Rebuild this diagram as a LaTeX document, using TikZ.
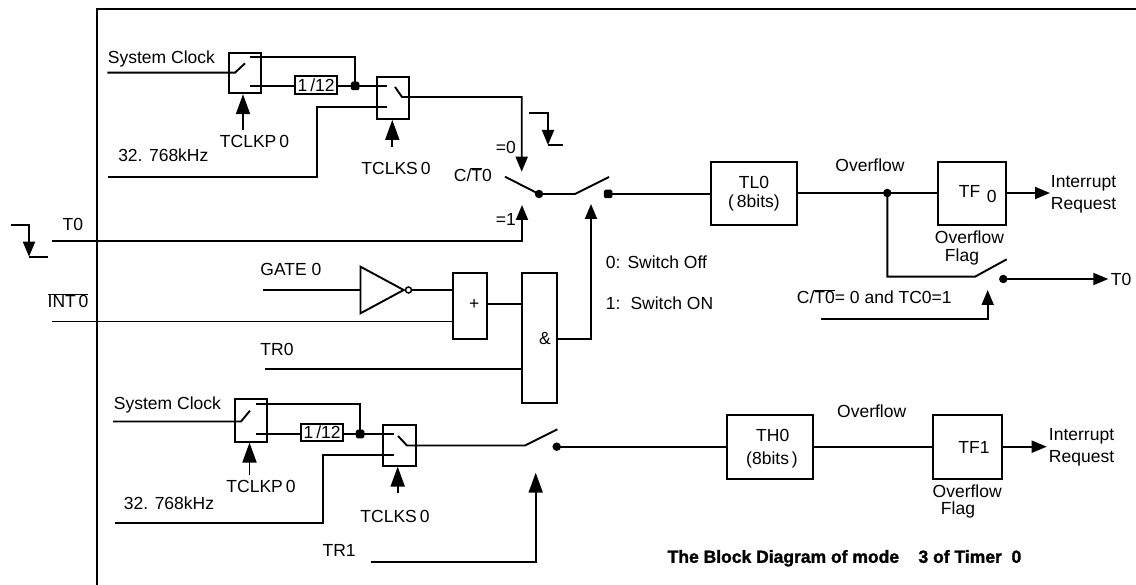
\documentclass[tikz,border=0pt]{standalone}
\usepackage{fontspec}
\setmainfont{Liberation Sans}
\newfontfamily\capfont[FakeBold=1.6]{Liberation Sans Bold}
\usetikzlibrary{arrows.meta}
\newcommand\olin[1]{$\overline{\mbox{#1}}$}
\begin{document}
\begin{tikzpicture}[x=1pt,y=-1pt, line width=1.9pt,
  every node/.style={inner sep=0pt, font=\fontsize{17.5}{20}\selectfont},
  blk/.style={draw, rectangle, line width=1.9pt, inner sep=0pt},
  arr/.style={-{Triangle[length=15pt,width=12pt]}},
  barr/.style={-{Triangle[length=20pt,width=14pt]}},
  lbl/.style={anchor=west},
  dotc/.style={circle, fill, minimum size=8.5pt, inner sep=0pt},
  dots/.style={rectangle, rounded corners=1.5pt, fill, minimum size=8.5pt, inner sep=0pt},
]
\useasboundingbox (0,0) rectangle (1136,585);
% frame
\coordinate (fbl) at (96.7,585); \coordinate (ftl) at (96.7,9.3); \coordinate (ftr) at (1136,9.3);
\draw (fbl) -- (ftl) -- (ftr);

% ===== top clock selection =====
\node[lbl] (sclk1) at (107,59.3) {System Clock};
\node[blk, minimum width=32.6pt, minimum height=40.6pt] (sw1) at (245,73) {};
\node[blk, minimum width=42pt, minimum height=18pt] (div1) at (316.2,85) {};
\node (div1t) at (div1) {1\,/12};
\node[blk, minimum width=32.6pt, minimum height=42.3pt] (sw2) at (393,97.8) {};
\coordinate (sc1) at (107.3,72.7);
\coordinate (p1a) at (235,72.7); \coordinate (p1b) at (245,63.3);
\draw (sc1) -- (p1a) -- (p1b);
\coordinate (s1t) at (250,56.7); \coordinate (j1) at (355,56.7);
\node[dots] (d1) at (355,86) {};
\draw (s1t) -- (j1) -- (d1.center);
\coordinate (s1b) at (250,86);
\draw (s1b) -- (div1.west |- s1b);
\coordinate (s2t) at (387,86);
\draw (div1.east |- s1b) -- (d1.center) -- (s2t);
\coordinate (s2b) at (387,107); \coordinate (k1) at (317,177); \coordinate (k0) at (108,177);
\draw (k0) -- (k1) -- (k1 |- s2b) -- (s2b);
\node[lbl] (khz1) at (117.3,155) {32. 768kHz};
\coordinate (p2a) at (395,87); \coordinate (p2b) at (402,97);
\coordinate (ct0) at (521.7,97); \coordinate (ct0tip) at (521.7,171.7);
\draw[arr] (p2a) -- (p2b) -- (ct0) -- (ct0tip);
\coordinate (a1) at (243,130);
\draw[barr] (a1) -- (a1 |- sw1.south);
\node (tclkp1) at (254.5,141.7) {TCLKP\,0};
\coordinate (a2) at (392.3,147);
\draw[barr] (a2) -- (a2 |- sw2.south);
\node (tclks1) at (396,168.5) {TCLKS\,0};

% falling edge symbols
\coordinate (fe1) at (529,112.7); \coordinate (fe2) at (548,112.7);
\coordinate (fe3) at (548,145); \coordinate (fe4) at (563,145);
\draw[arr] (fe1) -- (fe2) -- (fe3); \draw (fe3) -- (fe4);
\coordinate (ge1) at (10.7,225); \coordinate (ge2) at (29,225);
\coordinate (ge3) at (29,256.7); \coordinate (ge4) at (47.7,256.7);
\draw[arr] (ge1) -- (ge2) -- (ge3); \draw (ge3) -- (ge4);

% C/T switch
\node[lbl] (eq0) at (495,147) {=0};
\node[lbl] (ct) at (453,175) {C/\olin{T}0};
\node[lbl] (eq1) at (495,219) {=1};
\coordinate (cta) at (505,176.7);
\node[dotc] (ctd) at (539,194) {};
\coordinate (ctb) at (575,194); \coordinate (ctc) at (609,177);
\node[dots] (ctq) at (608,194) {};
\draw (cta) -- (ctd.center) -- (ctb) -- (ctc);
\node[blk, minimum width=86pt, minimum height=63.3pt] (tl0) at (754,193.5) {};
\node (tl0a) at (754,182) {TL0};
\node (tl0b) at (754,203) {(\,8bits)};
\draw (ctq.center) -- (tl0.west |- ctq);

% T0 input
\node[lbl] (t0in) at (61.7,224) {T0};
\coordinate (t0a) at (52.3,241); \coordinate (t0b) at (522,241); \coordinate (t0tip) at (522,205);
\draw[arr] (t0a) -- (t0b) -- (t0tip);

% overflow TL0
\node (ovf0) at (870,165) {Overflow};
\node[dotc] (ovd) at (887.3,193) {};
\node[blk, minimum width=68.3pt, minimum height=63.3pt] (tf0) at (971.8,193.5) {};
\draw (tl0.east |- ovd) -- (ovd.center) -- (tf0.west |- ovd);
\coordinate (ir0) at (1050,193);
\draw[arr] (tf0.east |- ovd) -- (ir0);
\node[lbl] (tf0a) at (958,191.7) {TF};
\node[lbl] (tf0b) at (986,196) {0};
\node[lbl] (int0a) at (1050,183.3) {Interrupt};
\node[lbl] (int0b) at (1050,205) {Request};
\node[lbl] (ovfl0a) at (934,237.3) {Overflow};
\node[lbl] (ovfl0b) at (944,256.7) {Flag};
\coordinate (ov1) at (887.3,276.7); \coordinate (ov2) at (975,276.7); \coordinate (ov3) at (1006.7,259.3);
\node[dotc] (ovq) at (1003.3,279) {};
\coordinate (t0out) at (1108.3,279);
\draw (ovd.center) -- (ov1) -- (ov2) -- (ov3);
\draw[arr] (ovq.center) -- (t0out);
\node[lbl] (t0o) at (1110,279) {T0};
\coordinate (tc0a) at (821,319); \coordinate (tc0b) at (987.7,319); \coordinate (tc0tip) at (987.7,290);
\draw[arr] (tc0a) -- (tc0b) -- (tc0tip);
\node[lbl] (tc0l) at (796,296.7) {C/\olin{T0}= 0 and TC0=1};

% ===== gate logic =====
\node[lbl] (gate) at (259.5,269.3) {GATE 0};
\coordinate (g0) at (263,290);
\coordinate (inv1) at (360.5,266.7); \coordinate (inv2) at (360.5,313.3); \coordinate (inv3) at (403.7,290);
\draw (inv1) -- (inv3) -- (inv2) -- cycle;
\node[circle, draw, minimum size=6pt, line width=1.5pt] (bub) at (408.5,290) {};
\draw (g0) -- (g0 -| inv1);
\node[blk, minimum width=34pt, minimum height=66pt] (or) at (470.3,306.3) {};
\node (orl) at (474.3,304.3) {+};
\draw (bub.east) -- (or.west |- bub);
\node[lbl] (int0) at (46.7,300.7) {\olin{INT\,0}};
\coordinate (i0) at (52.3,321.5);
\draw (i0) -- (or.west |- i0);
\node[blk, minimum width=35pt, minimum height=130pt] (and) at (539.2,338.3) {};
\node (andl) at (545,338.3) {\&};
\coordinate (orm) at (487.3,304.3);
\draw (or.east |- orm) -- (and.west |- orm);
\node[lbl] (tr0l) at (259.5,349.3) {TR0};
\coordinate (tr0) at (265,369);
\draw (tr0) -- (and.west |- tr0);
\coordinate (ando) at (591,339); \coordinate (andtip) at (591,204);
\draw[arr] (and.east |- ando) -- (ando) -- (andtip);
\node[lbl] (swoff) at (605,262) {0:\hspace{7pt}Switch Off};
\node[lbl] (swon) at (605,303) {1:\hspace{10pt}Switch ON};

% ===== bottom clock selection =====
\node[lbl] (sclk2) at (113,405) {System Clock};
\node[blk, minimum width=32pt, minimum height=42.7pt] (sw3) at (251,420.3) {};
\coordinate (sc2) at (113,421.5); \coordinate (p3a) at (241,421.5); \coordinate (p3b) at (250,410.7);
\draw (sc2) -- (p3a) -- (p3b);
\coordinate (s3t) at (256,404.3); \coordinate (j3) at (360,404.3);
\node[dots] (d3) at (360,434) {};
\draw (s3t) -- (j3) -- (d3.center);
\node[blk, minimum width=42.3pt, minimum height=17.7pt] (div2) at (322.2,432.5) {};
\node (div2t) at (div2) {1\,/12};
\coordinate (s3b) at (256,434);
\draw (s3b) -- (div2.west |- s3b);
\coordinate (s4t) at (394,434);
\draw (div2.east |- s3b) -- (d3.center) -- (s4t);
\node[blk, minimum width=33pt, minimum height=40.7pt] (sw4) at (399.2,445.3) {};
\coordinate (s4b) at (394,455); \coordinate (k3) at (322.7,523.3); \coordinate (k2) at (115,523.3);
\draw (k2) -- (k3) -- (k3 |- s4b) -- (s4b);
\coordinate (p4a) at (398,436); \coordinate (p4b) at (407,445.5);
\coordinate (p4c) at (525,445.5); \coordinate (p4d) at (557.3,429.3);
\draw (p4a) -- (p4b) -- (p4c) -- (p4d);
\node[dotc] (d4) at (556.7,446.7) {};
\node[blk, minimum width=86.6pt, minimum height=64pt] (th0) at (770,447) {};
\draw (d4.center) -- (th0.west |- d4);
\node[blk, minimum width=68.4pt, minimum height=64pt] (tf1) at (967.5,447) {};
\draw (th0.east |- d4) -- (tf1.west |- d4);
\coordinate (ir1) at (1046.7,446.7);
\draw[arr] (tf1.east |- d4) -- (ir1);
\coordinate (a3) at (249.5,475);
\draw[barr] (a3) -- (a3 |- sw3.south);
\node (tclkp2) at (261,486.7) {TCLKP\,0};
\node[lbl] (khz2) at (123,503.3) {32. 768kHz};
\coordinate (a4) at (397.7,493.3);
\draw[barr] (a4) -- (a4 |- sw4.south);
\node (tclks2) at (395,516.7) {TCLKS\,0};
\node[lbl] (tr1l) at (321.7,550) {TR1};
\coordinate (tr1a) at (370.7,561.7); \coordinate (tr1b) at (535.7,561.7); \coordinate (tr1tip) at (535.7,472.7);
\draw[barr] (tr1a) -- (tr1b) -- (tr1tip);
\node (th0a) at (772.7,435) {TH0};
\node (th0b) at (772,460) {(8bits\,)};
\node (ovf1) at (871.7,411.7) {Overflow};
\node (tf1l) at (974,447.7) {TF1};
\node[lbl] (int1a) at (1048,436) {Interrupt};
\node[lbl] (int1b) at (1048,458) {Request};
\node[lbl] (ovfl1a) at (931.7,491.7) {Overflow};
\node[lbl] (ovfl1b) at (940,510) {Flag};
\node[lbl, font=\fontsize{17.5}{20}\capfont] (cap) at (666.7,558.3) {The Block Diagram of mode\ \ \ \ 3 of Timer\ \ 0};
\end{tikzpicture}
\end{document}
